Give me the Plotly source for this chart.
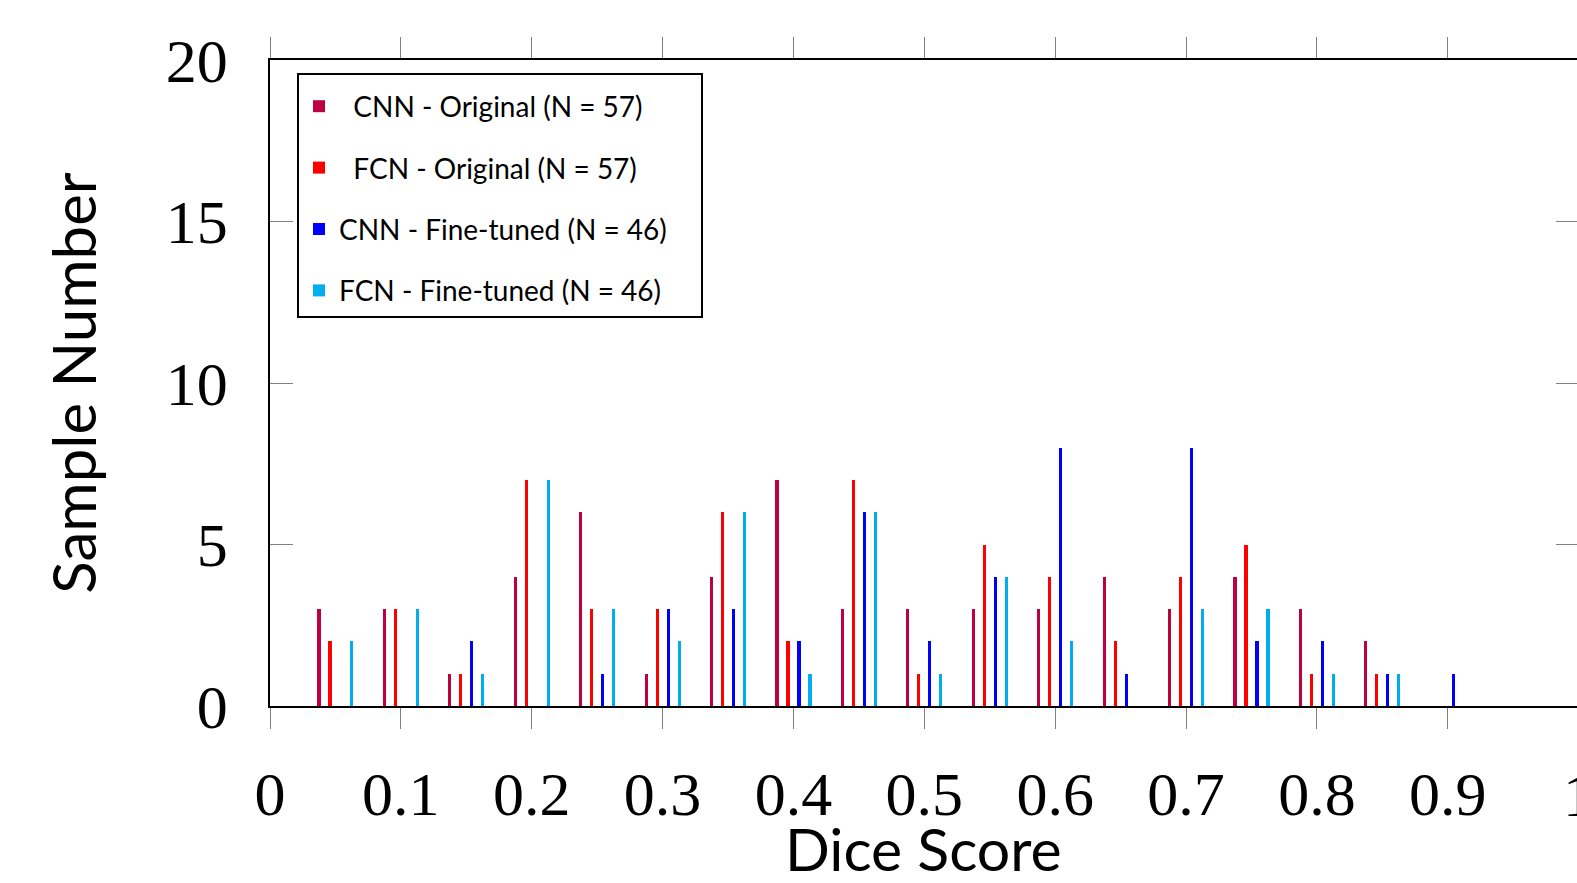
import plotly.graph_objects as go

# Bin centres (Dice score) and counts per method
bin_centers = [0.05, 0.10, 0.15, 0.20, 0.25, 0.30, 0.35, 0.40, 0.45,
               0.50, 0.55, 0.60, 0.65, 0.70, 0.75, 0.80, 0.85, 0.90]
cnn_original = [3, 3, 1, 4, 6, 1, 4, 7, 3, 3, 3, 3, 4, 3, 4, 3, 2, 0]
fcn_original = [2, 3, 1, 7, 3, 3, 6, 2, 7, 1, 5, 4, 2, 4, 5, 1, 1, 0]
cnn_finetuned = [0, 0, 2, 0, 1, 3, 3, 2, 6, 2, 4, 8, 1, 8, 2, 2, 1, 1]
fcn_finetuned = [2, 3, 1, 7, 3, 2, 6, 1, 6, 1, 4, 2, 0, 3, 3, 1, 1, 0]

series_names = ["\u00a0\u00a0CNN - Original (N\u00a0=\u00a057)",
                "\u00a0\u00a0FCN - Original (N\u00a0=\u00a057)",
                "CNN - Fine-tuned (N\u00a0=\u00a046)\u00a0\u00a0\u00a0\u00a0",
                "FCN - Fine-tuned (N\u00a0=\u00a046)"]
series_values = [cnn_original, fcn_original, cnn_finetuned, fcn_finetuned]
series_colors = ["#BF0040", "#FF0000", "#0000FF", "#00AEEF"]
bar_shifts = [-0.0126, -0.0042, 0.0042, 0.0126]
bar_width = 0.0024

x_ticks = [0, 0.1, 0.2, 0.3, 0.4, 0.5, 0.6, 0.7, 0.8, 0.9]
x_tick_text = ["0", "0.1", "0.2", "0.3", "0.4", "0.5", "0.6", "0.7", "0.8", "0.9"]
y_ticks = [0, 5, 10, 15, 20]

W, H = 1577, 883
L, R, T, B = 270, 0, 60, 177
plot_w = W - L - R
plot_h = H - T - B
px_per_unit = 1308.6
x_max = plot_w / px_per_unit

fig = go.Figure()
for i, (name, vals, col, sh) in enumerate(zip(series_names, series_values, series_colors, bar_shifts)):
    fig.add_trace(go.Bar(
        x=bin_centers, y=vals, name=name,
        width=bar_width, offset=sh - bar_width / 2,
        marker=dict(color=col, line=dict(width=0)),
        legendgroup=f"g{i}",
    ))

# helper trace for right-hand tick marks
fig.add_trace(go.Scatter(x=[None], y=[None], yaxis="y2", showlegend=False, hoverinfo="skip"))

serif = "Liberation Serif, Times New Roman, serif"
sans = "Lato, DejaVu Sans, sans-serif"

fig.update_layout(
    width=W, height=H,
    margin=dict(l=L, r=R, t=T, b=B, pad=0),
    paper_bgcolor="white", plot_bgcolor="white",
    barmode="overlay",
    bargap=0,
    showlegend=True,
    legend=dict(
        x=(297 - L) / plot_w, y=(706 - 73) / plot_h,
        xanchor="left", yanchor="top",
        bordercolor="black", borderwidth=2, bgcolor="white",
        font=dict(family=sans, size=28, color="black"),
        tracegroupgap=22, itemwidth=30,
        title=dict(text=" ", font=dict(size=5)),
    ),
    xaxis=dict(
        range=[0, x_max], tickmode="array", tickvals=x_ticks, ticktext=x_tick_text,
        ticks="outside", ticklen=21, tickwidth=1, tickcolor="#808080",
        showline=True, linecolor="black", linewidth=2, mirror="ticks",
        showgrid=False, zeroline=False,
        tickfont=dict(family=serif, size=62, color="black"),
        ticklabelstandoff=12,
        automargin=False,
    ),
    yaxis=dict(
        range=[0, 20], tickmode="array", tickvals=y_ticks,
        ticks="inside", ticklen=23, tickwidth=1, tickcolor="#808080",
        showline=True, linecolor="black", linewidth=1.8, mirror=False,
        showgrid=False, zeroline=False,
        tickfont=dict(family=serif, size=62, color="black"),
        ticklabelstandoff=28,
        title=dict(text="Sample Number", font=dict(family=sans, size=60, color="black"), standoff=50),
        automargin=False,
    ),
    yaxis2=dict(
        overlaying="y", side="right", anchor="x", range=[0, 20],
        tickmode="array", tickvals=y_ticks, showticklabels=False,
        ticks="inside", ticklen=21, tickwidth=1, tickcolor="#808080",
        showline=False, showgrid=False, zeroline=False,
    ),
)

# x-axis title
fig.add_annotation(
    x=0.5, xref="paper", y=(706 - 849) / plot_h, yref="paper",
    text="Dice Score", showarrow=False, xanchor="center", yanchor="middle",
    font=dict(family=sans, size=59, color="black"),
)

# partially visible "1" tick label at x = 1 (just outside the window)
fig.add_annotation(
    x=(1.0 * px_per_unit) / plot_w, xref="paper", y=0, yref="y",
    yshift=-89, text="1", showarrow=False, xanchor="center",
    font=dict(family=serif, size=62, color="black"),
)

fig.write_html("out.html")
